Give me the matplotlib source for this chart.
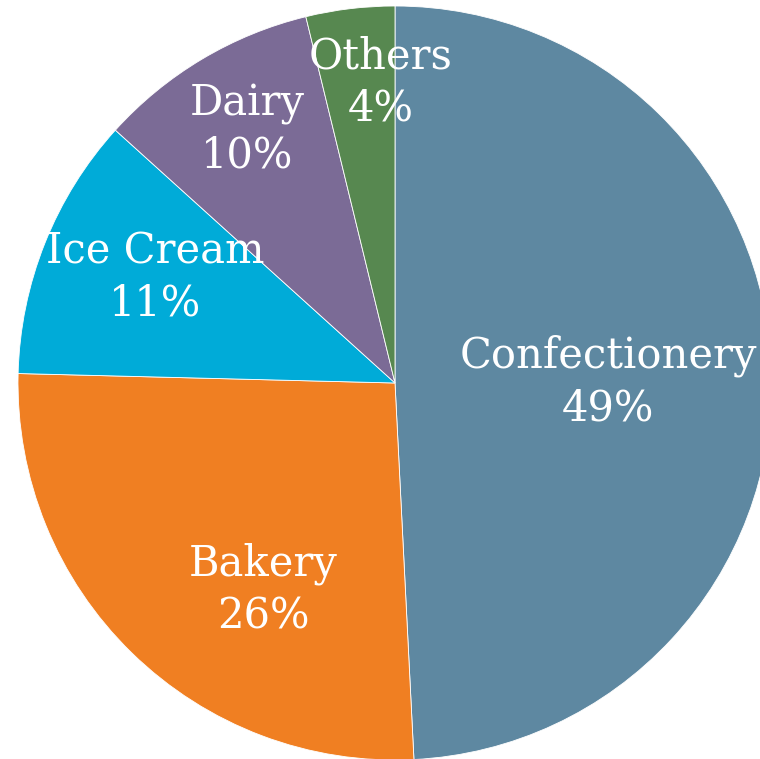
import matplotlib
matplotlib.use("Agg")
from matplotlib import pyplot as plt

categories = ["Confectionery", "Bakery", "Ice Cream", "Dairy", "Others"]
shares = [49.2, 26.2, 11.3, 9.5, 3.8]
pct_labels = ["49%", "26%", "11%", "10%", "4%"]
colors = ["#5e88a1", "#f07f22", "#00abd8", "#7b6b96", "#578850"]

# label centres in pie units (radius = 1)
label_xy = [(0.565, 0.003), (-0.350, -0.549), (-0.637, 0.279), (-0.393, 0.671), (-0.037, 0.798)]

fig = plt.figure(figsize=(7.6, 7.59), dpi=100)
ax = fig.add_axes([18 / 760, -1 / 759, 754 / 760, 754 / 759])
ax.pie(shares, colors=colors, startangle=90, counterclock=False, radius=1,
       wedgeprops=dict(edgecolor="white", linewidth=0.6))
ax.set_xlim(-1, 1)
ax.set_ylim(-1, 1)
ax.set_aspect("equal")
ax.axis("off")

for name, pct, (x, y) in zip(categories, pct_labels, label_xy):
    ax.text(x, y, f"{name}\n{pct}", ha="center", va="center", color="white",
            fontsize=30, family="DejaVu Serif", linespacing=1.3)

fig.savefig("out.png", dpi=100)
